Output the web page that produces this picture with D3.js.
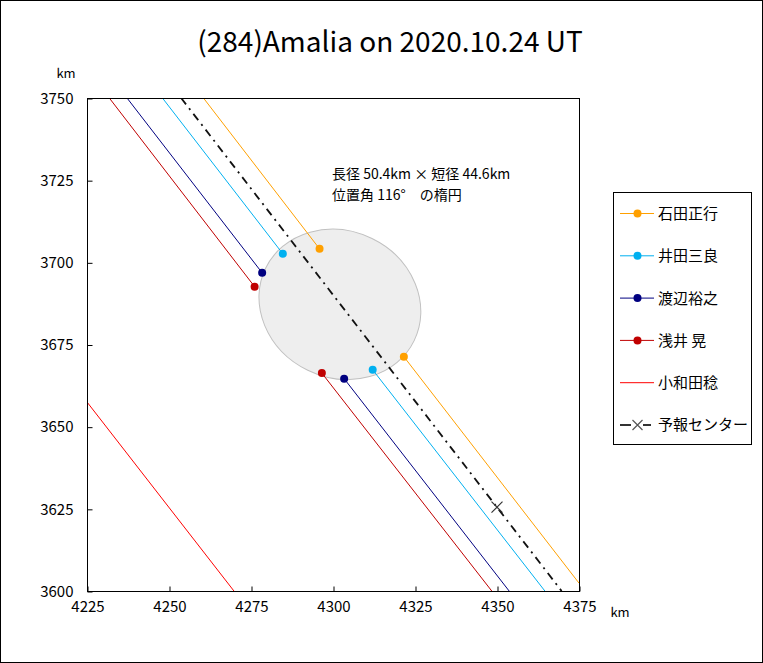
<!DOCTYPE html>
<html><head><meta charset="utf-8">
<script src="https://cdn.jsdelivr.net/npm/d3@7"></script>
<style>
html,body{margin:0;padding:0;background:#fff;}
text{font-family:"Noto Sans CJK JP","Noto Sans",sans-serif;fill:#000;}
</style></head>
<body>
<svg id="chart" width="763" height="663"></svg>
<script>
// ---- data ----
const titleText = "(284)Amalia on 2020.10.24 UT";
const xTicks = [4225, 4250, 4275, 4300, 4325, 4350, 4375];
const yTicks = [3600, 3625, 3650, 3675, 3700, 3725, 3750];
const observerNames = ["石田正行", "井田三良", "渡辺裕之", "浅井 晃", "小和田稔"];
// chord points: [start, disappearance, reappearance, end]  (km)
const chordIshida   = [[4260.5, 3750], [4295.9, 3704.1], [4321.6, 3671.3], [4375, 3602.4]];
const chordIda      = [[4248.0, 3750], [4284.7, 3702.6], [4312.1, 3667.3], [4364.6, 3600]];
const chordWatanabe = [[4237.2, 3750], [4278.4, 3696.8], [4303.4, 3664.6], [4353.7, 3600]];
const chordAsai     = [[4231.8, 3750], [4276.1, 3692.6], [4296.6, 3666.3], [4348.4, 3600]];
const chordOwada    = [[4225, 3657.5], [4269.8, 3600]];   // miss (no event)
const forecastName = "予報センター";
const forecastLine = [[4253.7, 3750], [4369.7, 3600]];
const forecastCenter = [4350.0, 3625.5];
const ellipseCenter = [4302.1, 3687.2];
const ellipseMajor = 50.4, ellipseMinor = 44.6, ellipsePA = 116;
const noteLines = ["長径 50.4km × 短径 44.6km", "位置角 116°　の楕円"];

// ---- styles ----
const seriesColors = ["#FFA000", "#00B0F0", "#000080", "#C00000", "#FF0000"];

const svg = d3.select("#chart");
svg.append("rect").attr("x",0.5).attr("y",0.5).attr("width",762).attr("height",662)
  .attr("fill","#fff").attr("stroke","#000").attr("stroke-width",1);

const L = 87, R = 579, T = 98, B = 591;
const x = d3.scaleLinear().domain([4225, 4375]).range([L, R]);
const y = d3.scaleLinear().domain([3600, 3750]).range([B, T]);

const plot = svg.append("g");
plot.append("defs").append("clipPath").attr("id","clip")
  .append("rect").attr("x",L).attr("y",T).attr("width",R-L).attr("height",B-T);

// ellipse
const kx = (x(4226)-x(4225)), ky = (y(3600)-y(3601));
plot.append("ellipse")
  .attr("cx", x(ellipseCenter[0])).attr("cy", y(ellipseCenter[1]))
  .attr("rx", ellipseMajor/2*kx).attr("ry", ellipseMinor/2*ky)
  .attr("transform", `rotate(${ellipsePA-90},${x(ellipseCenter[0])},${y(ellipseCenter[1])})`)
  .attr("fill","#eeeeee").attr("stroke","#c0c0c0").attr("stroke-width",1);

const lineGen = d3.line().x(d=>x(d[0])).y(d=>y(d[1]));
const g = plot.append("g").attr("clip-path","url(#clip)");

// forecast
g.append("path").datum(forecastLine).attr("d", lineGen)
  .attr("fill","none").attr("stroke","#111").attr("stroke-width",1.8)
  .attr("stroke-dasharray","8,5,2,5");

const chords = [chordIshida, chordIda, chordWatanabe, chordAsai];
// Owada miss line
g.append("path").datum(chordOwada).attr("d", lineGen)
  .attr("fill","none").attr("stroke",seriesColors[4]).attr("stroke-width",1);
chords.slice().reverse().forEach((c, ri) => {
  const i = chords.length-1-ri;
  const col = seriesColors[i];
  g.append("path").datum([c[0], c[1]]).attr("d", lineGen)
    .attr("fill","none").attr("stroke",col).attr("stroke-width",1);
  g.append("path").datum([c[2], c[3]]).attr("d", lineGen)
    .attr("fill","none").attr("stroke",col).attr("stroke-width",1);
});
chords.forEach((c, i) => {
  [c[1], c[2]].forEach(p => {
    g.append("circle").attr("cx", x(p[0])).attr("cy", y(p[1])).attr("r", 4)
      .attr("fill", seriesColors[i]);
  });
});

// forecast center X
const fx = x(forecastCenter[0]), fy = y(forecastCenter[1]), s = 5.5;
g.append("path").attr("d", `M${fx-s},${fy-s}L${fx+s},${fy+s}M${fx-s},${fy+s}L${fx+s},${fy-s}`)
  .attr("stroke","#333").attr("stroke-width",1.2).attr("fill","none");

// frame
plot.append("rect").attr("x",L+0.5).attr("y",T+0.5).attr("width",R-L).attr("height",B-T)
  .attr("fill","none").attr("stroke","#000").attr("stroke-width",1);

// axes
const xAxis = d3.axisBottom(x).tickValues(xTicks).tickSize(-5).tickPadding(10).tickFormat(d3.format("d"));
const yAxis = d3.axisLeft(y).tickValues(yTicks).tickSize(-5).tickPadding(14).tickFormat(d3.format("d"));
const gx = svg.append("g").attr("transform",`translate(0.5,${B+0.5})`).call(xAxis);
const gy = svg.append("g").attr("transform",`translate(${L+0.5},0.5)`).call(yAxis);
[gx, gy].forEach(a => {
  a.select(".domain").remove();
  a.selectAll("line").attr("stroke","#000");
  a.selectAll("text").attr("font-size",15).attr("font-family",'"Noto Sans","Noto Sans CJK JP",sans-serif').attr("fill","#000");
});

// unit labels
svg.append("text").attr("x",66).attr("y",78).attr("text-anchor","middle").attr("font-size",13).text("km");
svg.append("text").attr("x",620).attr("y",617).attr("text-anchor","middle").attr("font-size",13).text("km");

// title
svg.append("text").attr("x",390).attr("y",52).attr("text-anchor","middle")
  .attr("font-size",28).attr("font-family",'"Noto Sans","Noto Sans CJK JP",sans-serif').text(titleText);

// note
noteLines.forEach((t, i) => {
  svg.append("text").attr("x",332).attr("y",179 + i*21).attr("font-size",14).text(t);
});

// legend
const lg = svg.append("g");
lg.append("rect").attr("x",613.5).attr("y",192.5).attr("width",138).attr("height",252)
  .attr("fill","#fff").attr("stroke","#000").attr("stroke-width",1);
const legendY = i => 213.5 + i*42.3;
observerNames.forEach((name, i) => {
  const yy = legendY(i);
  lg.append("line").attr("x1",620).attr("x2",654).attr("y1",yy).attr("y2",yy)
    .attr("stroke",seriesColors[i]).attr("stroke-width",1);
  if (i < 4) lg.append("circle").attr("cx",637.5).attr("cy",yy).attr("r",4).attr("fill",seriesColors[i]);
  lg.append("text").attr("x",658).attr("y",yy).attr("dy","0.36em").attr("font-size",15).text(name);
});
{
  const yy = legendY(5);
  lg.append("line").attr("x1",620).attr("x2",631).attr("y1",yy).attr("y2",yy).attr("stroke","#333").attr("stroke-width",2);
  lg.append("line").attr("x1",643).attr("x2",651).attr("y1",yy).attr("y2",yy).attr("stroke","#333").attr("stroke-width",2);
  const cx = 637.5, ss = 5;
  lg.append("path").attr("d",`M${cx-ss},${yy-ss}L${cx+ss},${yy+ss}M${cx-ss},${yy+ss}L${cx+ss},${yy-ss}`)
    .attr("stroke","#555").attr("stroke-width",1.2);
  lg.append("text").attr("x",658).attr("y",yy).attr("dy","0.36em").attr("font-size",15).text(forecastName);
}
</script>
</body></html>
